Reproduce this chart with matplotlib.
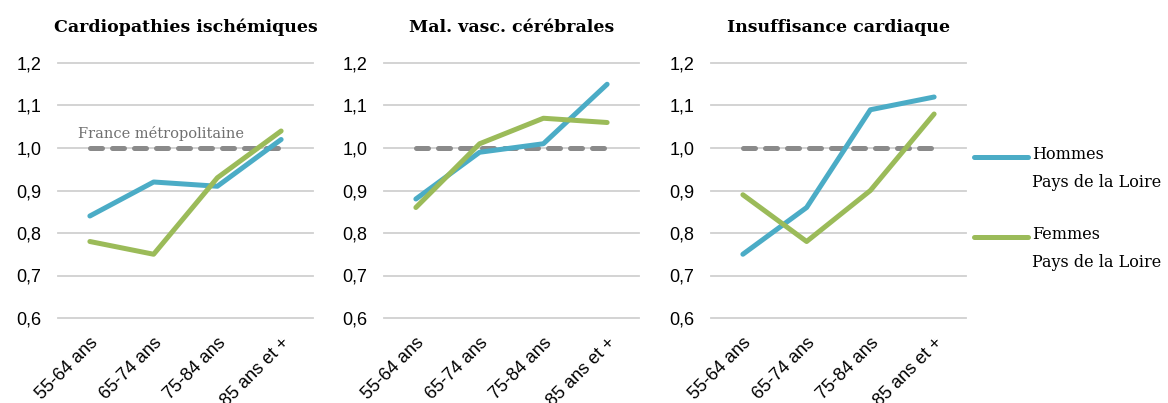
import matplotlib
matplotlib.use("Agg")
import matplotlib.pyplot as plt
from matplotlib.lines import Line2D

# data
ages = ["55-64 ans", "65-74 ans", "75-84 ans", "85 ans et +"]
titles = ["Cardiopathies ischémiques", "Mal. vasc. cérébrales", "Insuffisance cardiaque"]
hommes = [
    [0.84, 0.92, 0.91, 1.02],
    [0.88, 0.99, 1.01, 1.15],
    [0.75, 0.86, 1.09, 1.12],
]
femmes = [
    [0.78, 0.75, 0.93, 1.04],
    [0.86, 1.01, 1.07, 1.06],
    [0.89, 0.78, 0.90, 1.08],
]
france = [1.0, 1.0, 1.0, 1.0]
yticks = [0.6, 0.7, 0.8, 0.9, 1.0, 1.1, 1.2]

blue = "#4bacc6"
green = "#9bbb59"
grey = "#8a8a8a"

fig = plt.figure(figsize=(11.68, 4.03), dpi=100)
lefts = [58 / 1168, 384 / 1168, 711 / 1168]
w = 255 / 1168
bottom = 1 - 318 / 403
h = 255 / 403
lw = 3.6

x = list(range(len(ages)))
for i in range(3):
    ax = fig.add_axes([lefts[i], bottom, w, h])
    ax.set_xlim(-0.5, 3.5)
    ax.set_ylim(0.6, 1.2)
    for y in yticks:
        ax.axhline(y, color="#d0d0d0", lw=1.3, zorder=0, clip_on=False)
    ax.plot(x, france, color=grey, lw=lw, ls=(0, (2.4, 2.0)),
            solid_capstyle="round", dash_capstyle="round", zorder=2)
    ax.plot(x, hommes[i], color=blue, lw=lw, solid_capstyle="round", zorder=3)
    ax.plot(x, femmes[i], color=green, lw=lw, solid_capstyle="round", zorder=4)
    ax.set_yticks(yticks)
    ax.set_yticklabels([f"{v:.1f}".replace(".", ",") for v in yticks],
                       fontsize=13, family="Liberation Sans")
    ax.set_xticks(x)
    ax.set_xticklabels(ages, rotation=45, ha="right", rotation_mode="anchor",
                       fontsize=13, family="Liberation Sans")
    ax.tick_params(length=0, axis="y", pad=12)
    ax.tick_params(length=0, axis="x", pad=12)
    for s in ax.spines.values():
        s.set_visible(False)
    ax.set_title(titles[i], fontsize=12.5, fontweight="bold", family="DejaVu Serif",
                 pad=22)
    if i == 0:
        ax.text(-0.19, 1.035, "France métropolitaine", color="#707070",
                fontsize=10.5, family="DejaVu Serif", va="center")

# legend
for lab, col, yy in [("Hommes\nPays de la Loire", blue, 1 - 157 / 403),
                     ("Femmes\nPays de la Loire", green, 1 - 237 / 403)]:
    fig.add_artist(Line2D([974 / 1168, 1028 / 1168], [yy, yy], color=col, lw=lw,
                          solid_capstyle="round"))
    fig.text(1032 / 1168, yy + 0.028, lab, fontsize=11.5, family="DejaVu Serif",
             va="top", linespacing=1.85)

fig.savefig("out.png", dpi=100)
